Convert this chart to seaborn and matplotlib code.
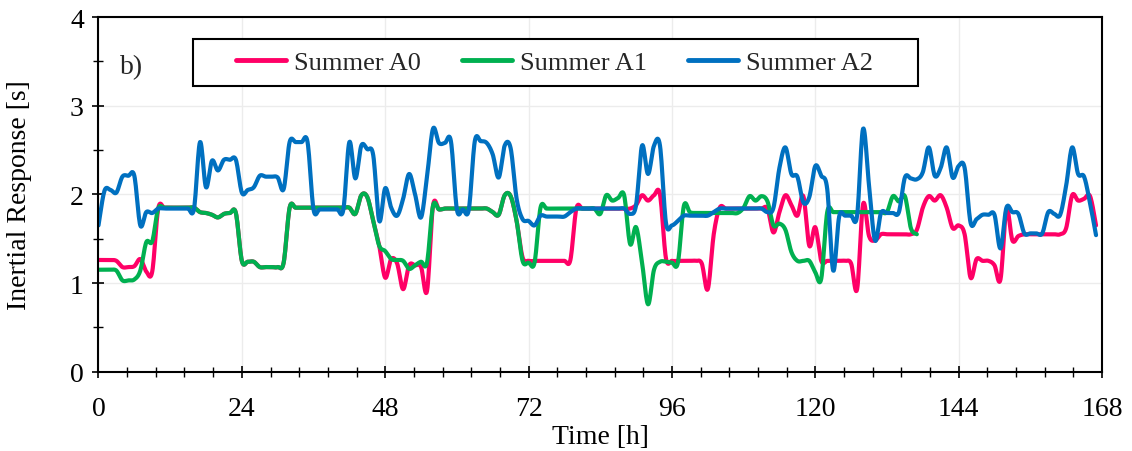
import numpy as np
import pandas as pd
import matplotlib
matplotlib.use("Agg")
import matplotlib.pyplot as plt
from matplotlib.ticker import MultipleLocator
from matplotlib.patches import Rectangle
import seaborn as sns

# Hourly inertial response over one summer week
hours = list(range(168))

summer_a0 = ([1.26, 1.26, 1.26, 1.25, 1.18, 1.18, 1.19, 1.27, 1.13, 1.13, 1.84]
             + [1.85] * 6
             + [1.80, 1.79, 1.77, 1.74, 1.78, 1.79, 1.79, 1.25, 1.24, 1.24, 1.18, 1.18, 1.18, 1.18, 1.23, 1.85]
             + [1.85] * 10
             + [1.78, 1.99, 1.97, 1.70, 1.42, 1.06, 1.27, 1.22, 0.93, 1.20, 1.20, 1.18, 0.91, 1.87, 1.83]
             + [1.84] * 8
             + [1.80, 1.77, 1.99, 1.98, 1.70, 1.29, 1.25]
             + [1.25] * 6
             + [1.26, 1.84]
             + [1.84] * 9
             + [1.88, 1.99, 1.93, 1.99, 2.00, 1.28, 1.25]
             + [1.25] * 4
             + [1.22, 0.93, 1.55, 1.85]
             + [1.84] * 8
             + [1.57, 1.80, 1.99, 1.88, 1.76, 1.98, 1.42, 1.63, 1.25]
             + [1.25] * 4
             + [1.22, 0.93, 1.89, 1.53, 1.48, 1.55]
             + [1.55] * 5
             + [1.60, 1.85, 1.98, 1.93, 1.99, 1.85, 1.62, 1.65, 1.55, 1.06, 1.27, 1.25, 1.25, 1.20, 1.04,
                1.83, 1.48, 1.53]
             + [1.55] * 7
             + [1.62, 1.99, 1.93, 1.95, 1.98, 1.65])

summer_a1 = ([1.15, 1.15, 1.15, 1.14, 1.03, 1.03, 1.04, 1.14, 1.46, 1.47, 1.84]
             + [1.85] * 6
             + [1.80, 1.79, 1.77, 1.74, 1.78, 1.79, 1.79, 1.25, 1.24, 1.24, 1.18, 1.18, 1.18, 1.18, 1.23, 1.85]
             + [1.85] * 10
             + [1.78, 1.99, 1.97, 1.70, 1.42, 1.36, 1.27, 1.26, 1.25, 1.16, 1.20, 1.24, 1.23, 1.87, 1.83]
             + [1.84] * 8
             + [1.80, 1.77, 1.99, 1.98, 1.70, 1.25, 1.23, 1.23, 1.85]
             + [1.84] * 9
             + [1.78, 1.99, 1.93, 1.96, 1.99, 1.44, 1.63, 1.23, 0.76, 1.15, 1.24, 1.24, 1.23, 1.23, 1.87, 1.80]
             + [1.79] * 8
             + [1.85, 1.98, 1.93, 1.98, 1.92, 1.65, 1.67, 1.60, 1.35, 1.25, 1.25, 1.25, 1.12, 1.05, 1.80]
             + [1.80] * 10
             + [1.98, 1.92, 1.98, 1.62, 1.55]
             + [np.nan] * 30)

summer_a2 = ([1.65, 2.04, 2.05, 2.02, 2.20, 2.21, 2.21, 1.65, 1.80, 1.79, 1.84]
             + [1.84] * 6
             + [2.59, 2.08, 2.38, 2.27, 2.39, 2.39, 2.39, 2.02, 2.05, 2.08, 2.21, 2.20, 2.20, 2.19, 2.06,
                2.59, 2.59, 2.59, 2.59, 1.83]
             + [1.83] * 5
             + [2.59, 2.18, 2.55, 2.51, 2.44, 1.70, 2.07, 1.85, 1.76, 1.95, 2.23, 2.00, 1.74, 2.20,
                2.74, 2.58, 2.58, 2.60, 1.83, 1.83, 1.83, 2.60, 2.60, 2.58, 2.45, 2.19, 2.55, 2.52,
                1.95, 1.72, 1.70, 1.65, 1.76]
             + [1.75] * 4
             + [1.80, 1.84]
             + [1.84] * 8
             + [1.78, 1.88, 2.55, 2.23, 2.55, 2.55, 1.68, 1.65, 1.70, 1.76]
             + [1.76] * 4
             + [1.80, 1.84]
             + [1.84] * 7
             + [1.80, 1.85, 2.30, 2.53, 2.23, 2.20, 1.91, 1.97, 2.32, 2.21, 2.06, 1.14, 1.75, 1.76, 1.76,
                1.76, 2.74, 2.10, 1.48, 1.79, 1.79, 1.79, 1.80, 2.19, 2.18, 2.17, 2.25, 2.53, 2.21, 2.30,
                2.53, 2.19, 2.32, 2.30, 1.68, 1.72, 1.77, 1.77, 1.77, 1.39, 1.85, 1.80, 1.78, 1.56, 1.56,
                1.56, 1.56, 1.80, 1.78, 1.77, 2.10, 2.53, 2.23, 2.20, 1.90, 1.54])

series_names = ["Summer A0", "Summer A1", "Summer A2"]
series_colors = ["#FF0066", "#00B050", "#0070C0"]
x_ticks = [0, 24, 48, 72, 96, 120, 144, 168]
y_ticks = [0, 1, 2, 3, 4]


def smooth_curve(x, y, steps=12):
    """Uniform Catmull-Rom curve through the hourly points (spreadsheet-style smoothing)."""
    x = np.asarray(x, float)
    y = np.asarray(y, float)
    ok = ~np.isnan(y)
    x, y = x[ok], y[ok]
    px = np.r_[x[0], x, x[-1]]
    py = np.r_[y[0], y, y[-1]]
    t = np.linspace(0, 1, steps, endpoint=False)[:, None]
    out_x, out_y = [], []
    for i in range(len(x) - 1):
        for p, out in ((px, out_x), (py, out_y)):
            p0, p1, p2, p3 = p[i], p[i + 1], p[i + 2], p[i + 3]
            seg = 0.5 * ((2 * p1) + (-p0 + p2) * t + (2 * p0 - 5 * p1 + 4 * p2 - p3) * t ** 2
                         + (-p0 + 3 * p1 - 3 * p2 + p3) * t ** 3)
            out.extend(seg.ravel())
    out_x.append(x[-1])
    out_y.append(y[-1])
    return np.array(out_x), np.array(out_y)


frames = []
for name, vals in zip(series_names, [summer_a0, summer_a1, summer_a2]):
    sx, sy = smooth_curve(hours, vals)
    frames.append(pd.DataFrame({"Time": sx, "Response": sy, "Series": name}))
df = pd.concat(frames, ignore_index=True)

sns.set_theme(style="white")
plt.rcParams["font.family"] = ["Liberation Serif", "DejaVu Serif"]

FS = 20

fig = plt.figure(figsize=(11.32, 4.52), dpi=100)
ax = fig.add_axes([0.087, 0.1755, 0.8865, 0.7845])

sns.lineplot(data=df, x="Time", y="Response", hue="Series", hue_order=series_names,
             palette=series_colors, sort=False, estimator=None, linewidth=3.0, ax=ax)

ax.set_xlim(0, 168)
ax.set_ylim(0, 4)
ax.set_xticks(x_ticks)
ax.set_yticks(y_ticks)
ax.xaxis.set_minor_locator(MultipleLocator(4.8))
ax.yaxis.set_minor_locator(MultipleLocator(0.5))
ax.grid(True, which="major", color="#ececec", linewidth=1.0)
ax.set_axisbelow(True)

for side in ["left", "right", "top", "bottom"]:
    ax.spines[side].set_visible(True)
    ax.spines[side].set_color("black")
    ax.spines[side].set_linewidth(1.5)

ax.tick_params(axis="both", which="major", direction="inout", length=9, width=1.2,
               colors="black", labelsize=FS)
ax.tick_params(axis="x", which="major", pad=13)
ax.tick_params(axis="y", which="major", pad=6)
ax.tick_params(axis="both", which="minor", direction="inout", length=7, width=1.0, colors="black")
ax.tick_params(axis="x", which="both", top=False, bottom=True)
ax.tick_params(axis="y", which="both", left=True, right=False)

ax.set_xlabel("Time [h]", fontsize=FS, color="black")
ax.set_ylabel("Inertial Response [s]", fontsize=FS, color="black")
ax.xaxis.set_label_coords(0.5, -0.148)
ax.yaxis.set_label_coords(-0.066, 0.5)

ax.text(0.021, 0.859, "b)", transform=ax.transAxes, fontsize=FS, va="center", ha="left")

# Legend entries without their own frame, inside a fixed box
handles, labels = ax.get_legend_handles_labels()
leg = ax.legend(handles, labels, loc="center left", bbox_to_anchor=(0.137, 0.872),
                ncol=3, frameon=False, fontsize=FS - 1, handlelength=1.9,
                handletextpad=0.3, columnspacing=1.55, borderpad=0.0, borderaxespad=0.0)
for line in leg.get_lines():
    line.set_linewidth(3.5)
ax.add_patch(Rectangle((0.0942, 0.8055), 0.7225, 0.1325, transform=ax.transAxes,
                       facecolor="white", edgecolor="black", linewidth=1.5, zorder=4))
leg.set_zorder(5)

fig.savefig("out.png", dpi=100)
